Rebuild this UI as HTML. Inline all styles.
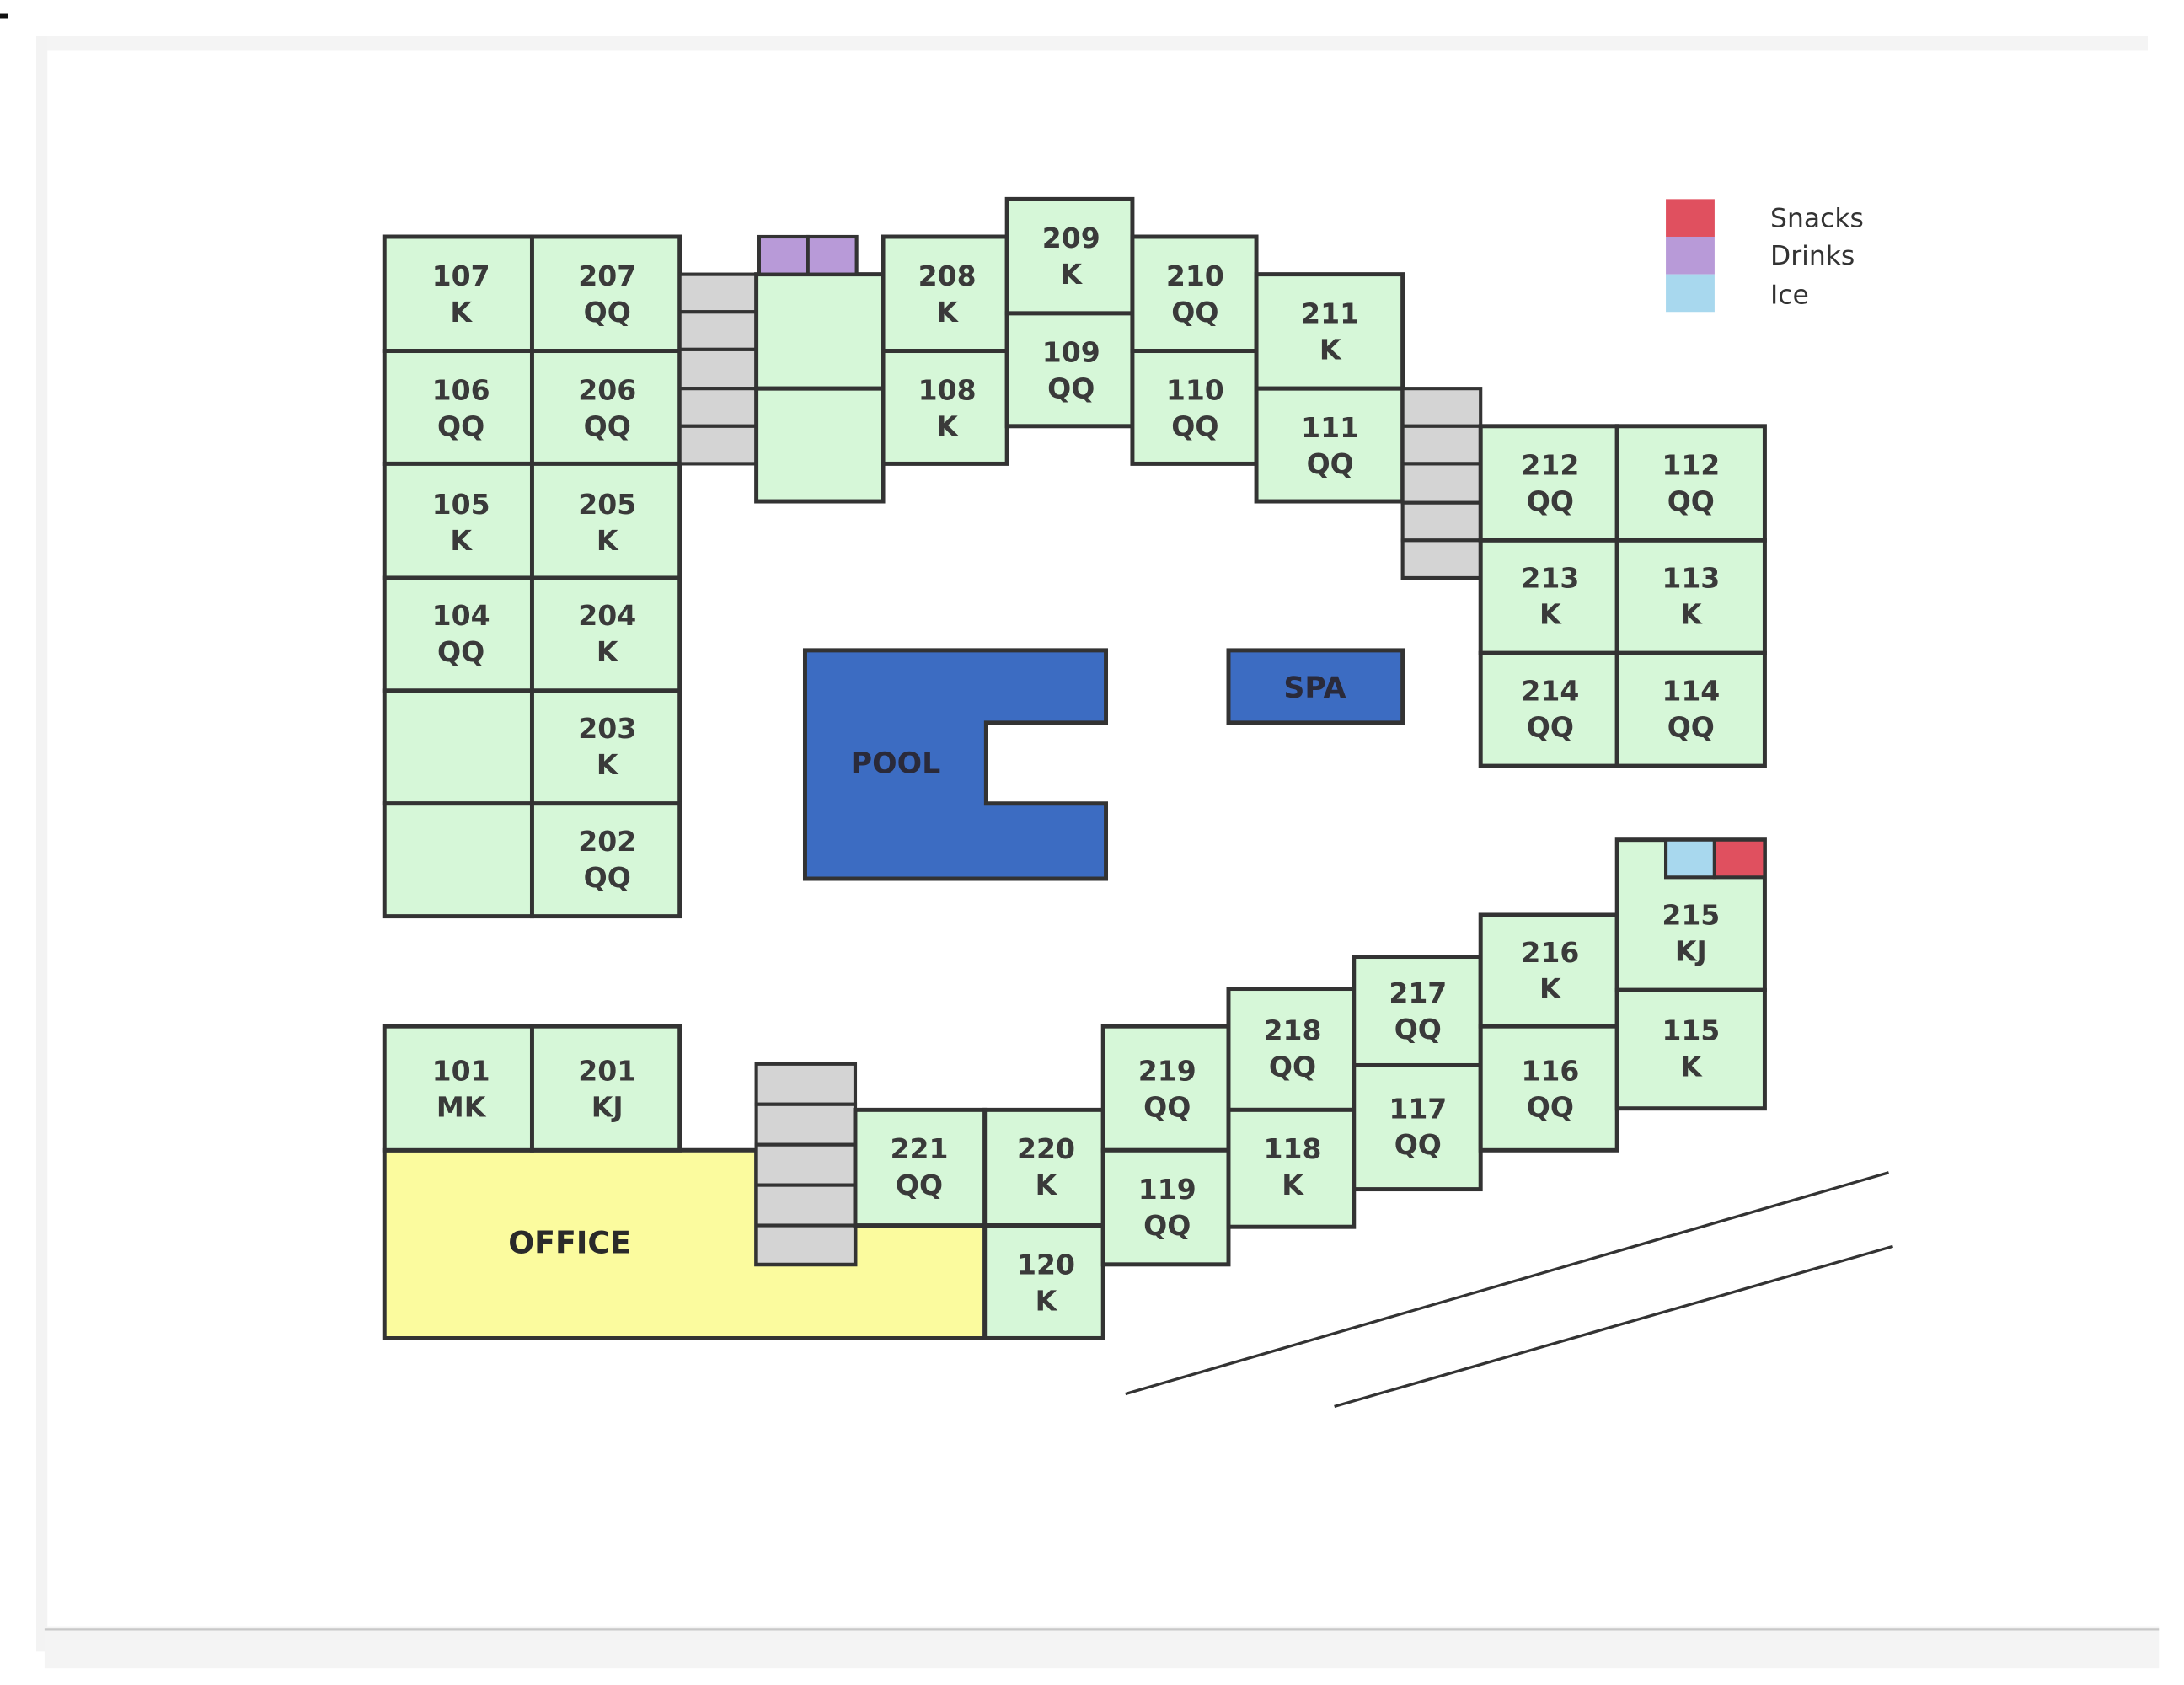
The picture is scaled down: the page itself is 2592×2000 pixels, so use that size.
<!DOCTYPE html>
<html><head><meta charset="utf-8"><style>
html,body{margin:0;padding:0;background:#fff;}
svg{display:block;}
.r{fill:#d6f7d8;stroke:#333;stroke-width:3;}
.g{fill:#d4d4d4;stroke:#333;stroke-width:2.5;}
.t{font-family:"DejaVu Sans",sans-serif;font-weight:bold;font-size:20px;fill:#3a3a3a;text-anchor:middle;}
.l{font-family:"DejaVu Sans",sans-serif;font-size:19px;fill:#333;}
</style></head><body>
<svg width="2592" height="2000" viewBox="0 0 1568 1210" preserveAspectRatio="none" xmlns="http://www.w3.org/2000/svg">
<rect x="0" y="0" width="1568" height="1210" fill="#fff"/>
<rect x="26" y="26" width="1516" height="10" fill="#f4f4f4"/>
<rect x="26" y="26" width="8" height="1160" fill="#f3f3f3"/>
<rect x="32" y="1168" width="1518" height="30" fill="#f4f4f4"/>
<line x1="32" y1="1170" x2="1550" y2="1170" stroke="#c8c8c8" stroke-width="2"/>
<rect x="0" y="10" width="6" height="3" fill="#111"/>

<g id="left">
<rect class="r" x="276" y="170" width="106" height="82"/><rect class="r" x="382" y="170" width="106" height="82"/>
<rect class="r" x="276" y="252" width="106" height="81"/><rect class="r" x="382" y="252" width="106" height="81"/>
<rect class="r" x="276" y="333" width="106" height="82"/><rect class="r" x="382" y="333" width="106" height="82"/>
<rect class="r" x="276" y="415" width="106" height="81"/><rect class="r" x="382" y="415" width="106" height="81"/>
<rect class="r" x="276" y="496" width="106" height="81"/><rect class="r" x="382" y="496" width="106" height="81"/>
<rect class="r" x="276" y="577" width="106" height="81"/><rect class="r" x="382" y="577" width="106" height="81"/>
</g>
<g>
<rect class="g" x="488" y="197" width="55" height="27"/><rect class="g" x="488" y="224" width="55" height="27"/>
<rect class="g" x="488" y="251" width="55" height="28"/><rect class="g" x="488" y="279" width="55" height="27"/>
<rect class="g" x="488" y="306" width="55" height="27"/>
<rect class="r" x="543" y="197" width="91" height="82"/><rect class="r" x="543" y="279" width="91" height="81"/>
<rect x="545" y="170" width="35" height="27" fill="#b89ad8" stroke="#333" stroke-width="2.5"/>
<rect x="580" y="170" width="35" height="27" fill="#b89ad8" stroke="#333" stroke-width="2.5"/>
<rect class="r" x="634" y="170" width="89" height="82"/><rect class="r" x="634" y="252" width="89" height="81"/>
<rect class="r" x="723" y="143" width="90" height="82"/><rect class="r" x="723" y="225" width="90" height="81"/>
<rect class="r" x="813" y="170" width="89" height="82"/><rect class="r" x="813" y="252" width="89" height="81"/>
<rect class="r" x="902" y="197" width="105" height="82"/><rect class="r" x="902" y="279" width="105" height="81"/>
<rect class="g" x="1007" y="279" width="56" height="27"/><rect class="g" x="1007" y="306" width="56" height="27"/>
<rect class="g" x="1007" y="333" width="56" height="28"/><rect class="g" x="1007" y="361" width="56" height="27"/>
<rect class="g" x="1007" y="388" width="56" height="27"/>
<rect class="r" x="1063" y="306" width="98" height="82"/><rect class="r" x="1161" y="306" width="106" height="82"/>
<rect class="r" x="1063" y="388" width="98" height="81"/><rect class="r" x="1161" y="388" width="106" height="81"/>
<rect class="r" x="1063" y="469" width="98" height="81"/><rect class="r" x="1161" y="469" width="106" height="81"/>
</g>
<polygon points="578,467 794,467 794,519 708,519 708,577 794,577 794,631 578,631" fill="#3c6cc2" stroke="#333" stroke-width="3"/>
<rect x="882" y="467" width="125" height="52" fill="#3c6cc2" stroke="#333" stroke-width="3"/>
<text class="t" x="643" y="555" style="font-size:21px;fill:#2a2a3a">POOL</text>
<text class="t" x="944" y="501" style="font-size:21px;fill:#2a2a3a">SPA</text>

<polygon points="276,826 543,826 543,908 614,908 614,880 707,880 707,961 276,961" fill="#fbfb9e" stroke="#333" stroke-width="3"/>
<rect class="r" x="276" y="737" width="106" height="89"/><rect class="r" x="382" y="737" width="106" height="89"/>
<rect class="g" x="543" y="764" width="71" height="29"/><rect class="g" x="543" y="793" width="71" height="29"/>
<rect class="g" x="543" y="822" width="71" height="29"/><rect class="g" x="543" y="851" width="71" height="29"/>
<rect class="g" x="543" y="880" width="71" height="28"/>
<rect class="r" x="614" y="797" width="93" height="83"/>
<rect class="r" x="707" y="797" width="85" height="83"/><rect class="r" x="707" y="880" width="85" height="81"/>
<rect class="r" x="792" y="737" width="90" height="89"/><rect class="r" x="792" y="826" width="90" height="82"/>
<rect class="r" x="882" y="710" width="90" height="87"/><rect class="r" x="882" y="797" width="90" height="84"/>
<rect class="r" x="972" y="687" width="91" height="78"/><rect class="r" x="972" y="765" width="91" height="89"/>
<rect class="r" x="1063" y="657" width="98" height="80"/><rect class="r" x="1063" y="737" width="98" height="89"/>
<rect class="r" x="1161" y="603" width="106" height="108"/><rect class="r" x="1161" y="711" width="106" height="85"/>
<rect x="1196" y="603" width="35" height="27" fill="#a8d8ee" stroke="#333" stroke-width="2.5"/>
<rect x="1231" y="603" width="36" height="27" fill="#e0505f" stroke="#333" stroke-width="2.5"/>
<text class="t" x="409" y="900" style="font-size:22px;fill:#2a2a2a">OFFICE</text>

<line x1="808" y1="1001" x2="1356" y2="842" stroke="#333" stroke-width="2"/>
<line x1="958" y1="1010" x2="1359" y2="895" stroke="#333" stroke-width="2"/>

<rect x="1196" y="143" width="35" height="27" fill="#e0505f"/>
<rect x="1196" y="170" width="35" height="27" fill="#b89ad8"/>
<rect x="1196" y="197" width="35" height="27" fill="#a8d8ee"/>
<text class="l" x="1271" y="163">Snacks</text>
<text class="l" x="1271" y="190">Drinks</text>
<text class="l" x="1271" y="218">Ice</text>

<g class="t">
<text x="331" y="205">107</text><text x="331" y="231">K</text>
<text x="436" y="205">207</text><text x="436" y="231">QQ</text>
<text x="331" y="287">106</text><text x="331" y="313">QQ</text>
<text x="436" y="287">206</text><text x="436" y="313">QQ</text>
<text x="331" y="369">105</text><text x="331" y="395">K</text>
<text x="436" y="369">205</text><text x="436" y="395">K</text>
<text x="331" y="449">104</text><text x="331" y="475">QQ</text>
<text x="436" y="449">204</text><text x="436" y="475">K</text>
<text x="436" y="530">203</text><text x="436" y="556">K</text>
<text x="436" y="611">202</text><text x="436" y="637">QQ</text>
<text x="680" y="205">208</text><text x="680" y="231">K</text>
<text x="680" y="287">108</text><text x="680" y="313">K</text>
<text x="769" y="178">209</text><text x="769" y="204">K</text>
<text x="769" y="260">109</text><text x="769" y="286">QQ</text>
<text x="858" y="205">210</text><text x="858" y="231">QQ</text>
<text x="858" y="287">110</text><text x="858" y="313">QQ</text>
<text x="955" y="232">211</text><text x="955" y="258">K</text>
<text x="955" y="314">111</text><text x="955" y="340">QQ</text>
<text x="1113" y="341">212</text><text x="1113" y="367">QQ</text>
<text x="1214" y="341">112</text><text x="1214" y="367">QQ</text>
<text x="1113" y="422">213</text><text x="1113" y="448">K</text>
<text x="1214" y="422">113</text><text x="1214" y="448">K</text>
<text x="1113" y="503">214</text><text x="1113" y="529">QQ</text>
<text x="1214" y="503">114</text><text x="1214" y="529">QQ</text>
<text x="331" y="776">101</text><text x="331" y="802">MK</text>
<text x="436" y="776">201</text><text x="436" y="802">KJ</text>
<text x="660" y="832">221</text><text x="660" y="858">QQ</text>
<text x="751" y="832">220</text><text x="751" y="858">K</text>
<text x="751" y="915">120</text><text x="751" y="941">K</text>
<text x="838" y="776">219</text><text x="838" y="802">QQ</text>
<text x="838" y="861">119</text><text x="838" y="887">QQ</text>
<text x="928" y="747">218</text><text x="928" y="773">QQ</text>
<text x="928" y="832">118</text><text x="928" y="858">K</text>
<text x="1018" y="720">217</text><text x="1018" y="746">QQ</text>
<text x="1018" y="803">117</text><text x="1018" y="829">QQ</text>
<text x="1113" y="691">216</text><text x="1113" y="717">K</text>
<text x="1113" y="776">116</text><text x="1113" y="802">QQ</text>
<text x="1214" y="664">215</text><text x="1214" y="690">KJ</text>
<text x="1214" y="747">115</text><text x="1214" y="773">K</text>
</g>
</svg>
</body></html>
